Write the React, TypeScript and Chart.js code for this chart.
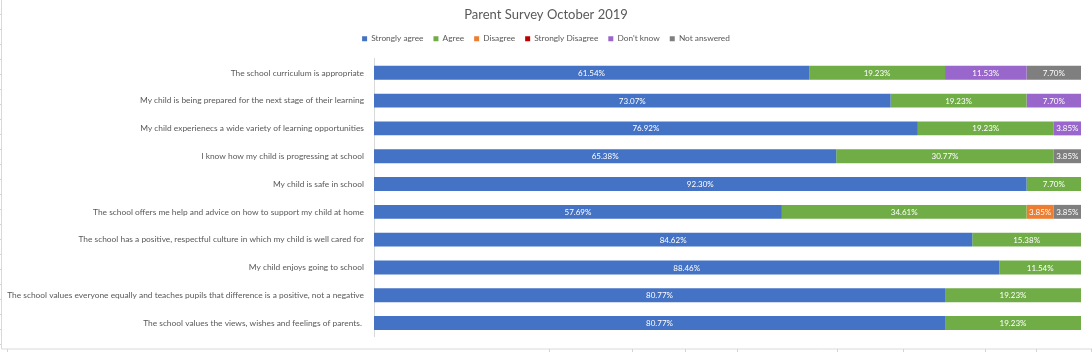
import React, { useEffect, useRef } from "react";
import { Chart, registerables } from "chart.js";

Chart.register(...registerables);

const categories = [
  "The school curriculum is appropriate",
  "My child is being prepared for the next stage of their learning",
  "My child experienecs a wide variety of learning opportunities",
  "I know how my child is progressing at school",
  "My child is safe in school",
  "The school offers me help and advice on how to support my child at home",
  "The school has a positive, respectful culture in which my child is well cared for",
  "My child enjoys going to school",
  "The school values everyone equally and teaches pupils that difference is a positive, not a negative",
  "The school values the views, wishes and feelings of parents. ",
];

const seriesNames = ["Strongly agree", "Agree", "Disagree", "Strongly Disagree", "Don't know", "Not answered"];
const stronglyAgree = [61.54, 73.07, 76.92, 65.38, 92.3, 57.69, 84.62, 88.46, 80.77, 80.77];
const agree = [19.23, 19.23, 19.23, 30.77, 7.7, 34.61, 15.38, 11.54, 19.23, 19.23];
const disagree = [0, 0, 0, 0, 0, 3.85, 0, 0, 0, 0];
const stronglyDisagree = [0, 0, 0, 0, 0, 0, 0, 0, 0, 0];
const dontKnow = [11.53, 7.7, 3.85, 0, 0, 0, 0, 0, 0, 0];
const notAnswered = [7.7, 0, 0, 3.85, 0, 3.85, 0, 0, 0, 0];
const seriesColors = ["#4472C4", "#70AD47", "#ED7D31", "#C00000", "#9966CC", "#7F7F7F"];

const TEXT = "#595959";
const FONT = "Lato";

const valueLabels = {
  id: "valueLabels",
  afterDatasetsDraw(chart: any) {
    const ctx = chart.ctx;
    ctx.save();
    ctx.font = `8px ${FONT}`;
    ctx.fillStyle = "#ffffff";
    ctx.textAlign = "center";
    ctx.textBaseline = "middle";
    chart.data.datasets.forEach((ds: any, i: number) => {
      const meta = chart.getDatasetMeta(i);
      if (meta.hidden) return;
      meta.data.forEach((el: any, j: number) => {
        const v = ds.data[j];
        if (!v) return;
        const p = el.getProps(["x", "y", "base"], true);
        ctx.fillText(v.toFixed(2) + "%", (p.x + p.base) / 2, p.y + 0.5);
      });
    });
    ctx.restore();
  },
};

// sheet cell borders visible around the embedded chart
const sheetFrame = {
  id: "sheetFrame",
  beforeDraw(chart: any) {
    const ctx = chart.ctx;
    const w = chart.width;
    const h = chart.height;
    ctx.save();
    ctx.strokeStyle = "#d9d9d9";
    ctx.lineWidth = 1;
    ctx.beginPath();
    ctx.moveTo(1.5, 0);
    ctx.lineTo(1.5, h - 3);
    ctx.lineTo(w, h - 3);
    ctx.stroke();
    ctx.strokeStyle = "#d4d4d4";
    ctx.beginPath();
    for (let y = 14.5; y < h - 3; y += 15) {
      ctx.moveTo(0, y);
      ctx.lineTo(1, y);
    }
    [7, 549, 632, 685, 737, 837, 903, 985, 1036, 1091].forEach((x) => {
      ctx.moveTo(x + 0.5, h - 3);
      ctx.lineTo(x + 0.5, h);
    });
    ctx.stroke();
    ctx.restore();
  },
};

const layoutTweaks = {
  id: "layoutTweaks",
  beforeInit(chart: any) {
    const legend = chart.legend;
    if (!legend) return;
    const origFit = legend.fit;
    legend.fit = function () {
      origFit.bind(legend)();
      this.height += 6;
    };
  },
  afterLayout(chart: any) {
    // let long category labels use the left margin instead of being clipped
    const y = chart.scales.y;
    if (y) y.left = 0;
  },
};

export default function App() {
  const ref = useRef<HTMLCanvasElement>(null);

  useEffect(() => {
    document.body.style.margin = "0";
    const seriesData = [stronglyAgree, agree, disagree, stronglyDisagree, dontKnow, notAnswered];
    const chart = new Chart(ref.current as HTMLCanvasElement, {
      type: "bar",
      data: {
        labels: categories,
        datasets: seriesNames.map((name, i) => ({
          label: name,
          data: seriesData[i],
          backgroundColor: seriesColors[i],
          borderWidth: 0,
          barPercentage: 0.5,
          categoryPercentage: 1,
        })),
      },
      options: {
        indexAxis: "y",
        animation: false,
        responsive: false,
        layout: { padding: { left: 11, right: 11, top: 0, bottom: 15 } },
        plugins: {
          title: {
            display: true,
            text: "Parent Survey October 2019",
            color: TEXT,
            font: { family: FONT, size: 13, weight: "normal" },
            padding: { top: 7, bottom: 2 },
          },
          legend: {
            position: "top",
            labels: {
              color: TEXT,
              font: { family: FONT, size: 8.3 },
              boxWidth: 5,
              boxHeight: 5,
              padding: 10,
            },
          },
          tooltip: { enabled: false },
        },
        scales: {
          x: { stacked: true, min: 0, max: 100, display: false },
          y: {
            stacked: true,
            grid: { display: false, drawTicks: false },
            border: { display: true, color: "#d9d9d9" },
            ticks: {
              color: TEXT,
              font: { family: FONT, size: 8.4 },
              padding: 10,
              autoSkip: false,
            },
            afterFit(scale: any) {
              scale.width = 363;
            },
          },
        },
      },
      plugins: [valueLabels, sheetFrame, layoutTweaks],
    } as any);
    return () => chart.destroy();
  }, []);

  return (
    <div style={{ width: 1092, height: 352 }}>
      <canvas ref={ref} width={1092} height={352} style={{ display: "block" }} />
    </div>
  );
}
